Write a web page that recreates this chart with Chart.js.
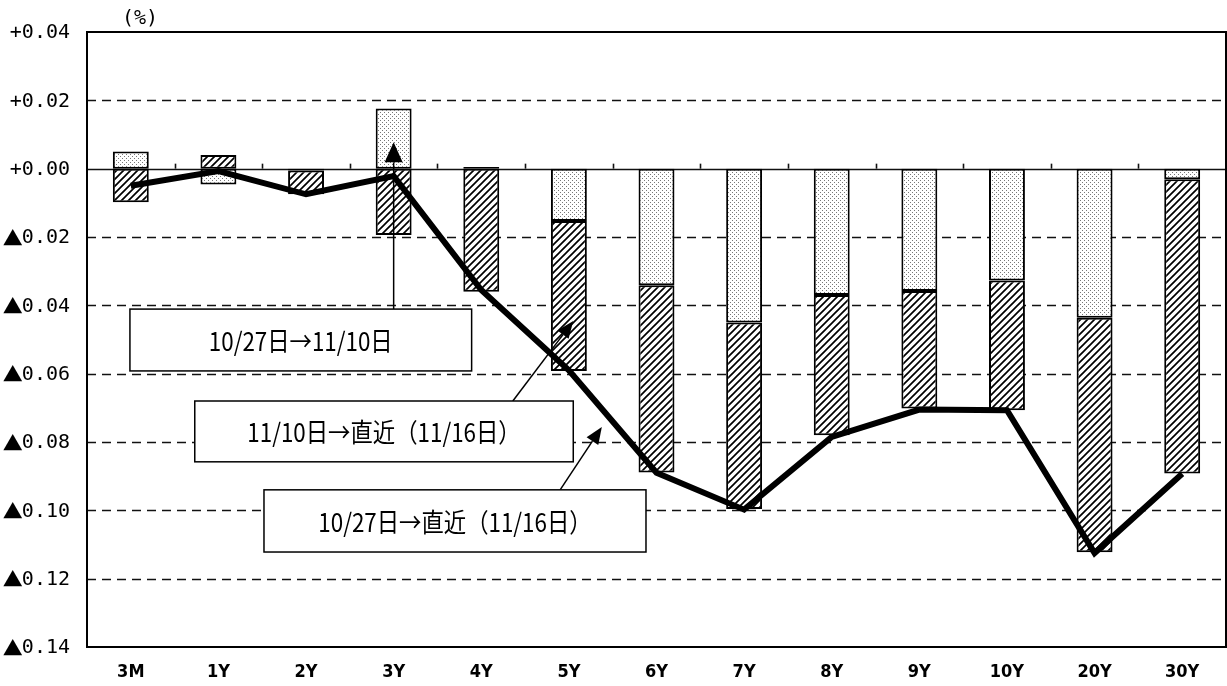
<!DOCTYPE html>
<html>
<head>
<meta charset="utf-8">
<script src="https://cdn.jsdelivr.net/npm/chart.js@4.4.0/dist/chart.umd.min.js"></script>
<style>
  html, body { margin: 0; padding: 0; background: #fff; }
  #wrap { width: 1227px; height: 686px; }
</style>
</head>
<body>
<div id="wrap"><canvas id="myChart" width="1227" height="686"></canvas></div>
<script>
// maturities
const labels = ['3M', '1Y', '2Y', '3Y', '4Y', '5Y', '6Y', '7Y', '8Y', '9Y', '10Y', '20Y', '30Y'];
// 10/27 -> 11/10 (dotted bars)
const firstLeg = [0.005, -0.0046, -0.0005, 0.0176, 0.0005, -0.0153, -0.0341, -0.045, -0.037, -0.0358, -0.0327, -0.0436, -0.0031];
// 11/10 -> 11/16 (hatched bars)
const secondLeg = [-0.0098, 0.004, -0.007, -0.0194, -0.036, -0.0439, -0.0548, -0.0546, -0.041, -0.0344, -0.038, -0.0687, -0.0861];
// 10/27 -> 11/16 (line)
const totalMove = [-0.005, -0.0007, -0.0075, -0.0022, -0.0355, -0.059, -0.089, -0.0998, -0.0785, -0.0705, -0.0707, -0.1125, -0.0893];
// y axis labels, top to bottom
const yTickLabels = ['+0.04', '+0.02', '+0.00', '▲0.02', '▲0.04', '▲0.06', '▲0.08', '▲0.10', '▲0.12', '▲0.14'];

// callout boxes and arrows, in (category index, value) units
const boxes = [
    { x0: -0.01, x1: 3.89, y0: -0.0411, y1: -0.0592, text: '10/27日→11/10日' },
    { x0: 0.73, x1: 5.05, y0: -0.068, y1: -0.0858, text: '11/10日→直近（11/16日）' },
    { x0: 1.52, x1: 5.88, y0: -0.094, y1: -0.1122, text: '10/27日→直近（11/16日）' }
];
const arrows = [
    { from: [3.0, -0.0411], to: [3.0, 0.0077], head: 20, half: 9 },
    { from: [4.36, -0.068], to: [5.05, -0.0446], head: 17, half: 7 },
    { from: [4.90, -0.094], to: [5.376, -0.0756], head: 17, half: 7 }
];

const canvas = document.getElementById('myChart');
const ctx = canvas.getContext('2d');

function makeHatch() {
    const c = document.createElement('canvas');
    c.width = 7; c.height = 7;
    const g = c.getContext('2d');
    g.fillStyle = '#fff';
    g.fillRect(0, 0, 7, 7);
    g.strokeStyle = '#000';
    g.lineWidth = 1.7;
    g.beginPath();
    g.moveTo(-1, 8); g.lineTo(8, -1);
    g.moveTo(-1, 1); g.lineTo(1, -1);
    g.moveTo(6, 8); g.lineTo(8, 6);
    g.stroke();
    return ctx.createPattern(c, 'repeat');
}

function makeDots() {
    const c = document.createElement('canvas');
    c.width = 4; c.height = 4;
    const g = c.getContext('2d');
    g.fillStyle = '#fff';
    g.fillRect(0, 0, 4, 4);
    g.fillStyle = '#777';
    g.fillRect(0, 0, 1, 1);
    g.fillRect(2, 2, 1, 1);
    return ctx.createPattern(c, 'repeat');
}

function arrowHead(c, x0, y0, x1, y1, len, half) {
    const a = Math.atan2(y1 - y0, x1 - x0);
    const bx = x1 - len * Math.cos(a), by = y1 - len * Math.sin(a);
    c.beginPath();
    c.moveTo(x1, y1);
    c.lineTo(bx + half * Math.sin(a), by - half * Math.cos(a));
    c.lineTo(bx - half * Math.sin(a), by + half * Math.cos(a));
    c.closePath();
    c.fill();
}

const paperPlugin = {
    id: 'paper',
    beforeDraw(chart) {
        const c = chart.ctx;
        c.save();
        c.fillStyle = '#fff';
        c.fillRect(0, 0, chart.width, chart.height);
        c.fillStyle = '#000';
        c.font = '20px "DejaVu Sans Mono"';
        c.textAlign = 'center';
        c.textBaseline = 'middle';
        c.fillText('(%)', 140, 19);
        c.restore();
    },
    beforeDatasetsDraw(chart) {
        const c = chart.ctx, a = chart.chartArea;
        const ys = chart.scales.y, xs = chart.scales.x;
        c.save();
        c.strokeStyle = '#111';
        ys.ticks.forEach(t => {
            const py = Math.round(ys.getPixelForValue(t.value)) + 0.5;
            if (py < a.top + 2 || py > a.bottom - 2) return;
            c.beginPath();
            if (Math.abs(t.value) < 1e-9) {
                c.setLineDash([]);
                c.lineWidth = 1.5;
            } else {
                c.setLineDash([9, 6]);
                c.lineWidth = 1.6;
            }
            c.moveTo(a.left, py);
            c.lineTo(a.right, py);
            c.stroke();
        });
        // small ticks on the zero line
        c.setLineDash([]);
        const zy = ys.getPixelForValue(0);
        for (let i = 0; i < labels.length - 1; i++) {
            const px = Math.round(xs.getPixelForValue(i + 0.5)) + 0.5;
            c.beginPath();
            c.moveTo(px, zy);
            c.lineTo(px, zy - 5);
            c.stroke();
        }

        // y labels: big CJK triangle + monospaced digits
        c.fillStyle = '#000';
        c.textBaseline = 'middle';
        ys.ticks.forEach(t => {
            const txt = yTickLabels[Math.round((0.04 - t.value) / 0.02)];
            if (!txt) return;
            const py = ys.getPixelForValue(t.value) + 1;
            const num = txt.slice(1);
            c.font = '20px "DejaVu Sans Mono"';
            c.textAlign = 'right';
            c.fillText(num, 70, py);
            const w = c.measureText(num).width;
            if (txt[0] === '▲') {
                c.font = '20px "Noto Sans CJK JP"';
                c.fillText('▲', 70 - w + 1, py);
            } else {
                c.fillText(txt[0], 70 - w, py);
            }
        });
        c.restore();
    },
    afterDatasetsDraw(chart) {
        const c = chart.ctx, a = chart.chartArea;
        const ys = chart.scales.y, xs = chart.scales.x;
        c.save();
        c.strokeStyle = '#000';
        c.fillStyle = '#000';
        c.lineWidth = 1.5;
        arrows.forEach(ar => {
            const x0 = xs.getPixelForValue(ar.from[0]), y0 = ys.getPixelForValue(ar.from[1]);
            const x1 = xs.getPixelForValue(ar.to[0]), y1 = ys.getPixelForValue(ar.to[1]);
            const ang = Math.atan2(y1 - y0, x1 - x0);
            c.beginPath();
            c.moveTo(x0, y0);
            c.lineTo(x1 - ar.head * Math.cos(ang), y1 - ar.head * Math.sin(ang));
            c.stroke();
            arrowHead(c, x0, y0, x1, y1, ar.head, ar.half);
        });
        c.font = '26px "Noto Sans CJK JP"';
        c.textAlign = 'center';
        c.textBaseline = 'middle';
        boxes.forEach(b => {
            const l = xs.getPixelForValue(b.x0), r = xs.getPixelForValue(b.x1);
            const t = ys.getPixelForValue(b.y0), bt = ys.getPixelForValue(b.y1);
            c.fillStyle = '#fff';
            c.fillRect(l, t, r - l, bt - t);
            c.strokeRect(l, t, r - l, bt - t);
            c.fillStyle = '#000';
            // condensed look of the original lettering
            c.save();
            c.translate((l + r) / 2, (t + bt) / 2 + 1);
            c.scale(0.86, 1);
            c.fillText(b.text, 0, 0);
            c.restore();
        });
        // plot frame
        c.lineWidth = 2;
        c.strokeRect(a.left, a.top, a.right - a.left, a.bottom - a.top);
        c.restore();
    }
};

new Chart(canvas, {
    type: 'bar',
    data: {
        labels: labels,
        datasets: [
            {
                type: 'line',
                label: '10/27日→直近（11/16日）',
                data: totalMove,
                stack: 'total',
                borderColor: '#000',
                borderWidth: 6,
                borderJoinStyle: 'miter',
                pointRadius: 0,
                tension: 0,
                fill: false,
                order: 0
            },
            {
                label: '10/27日→11/10日',
                data: firstLeg,
                stack: 'bars',
                backgroundColor: makeDots(),
                borderColor: '#000',
                borderWidth: 2,
                borderSkipped: false,
                barPercentage: 0.41,
                categoryPercentage: 1.0,
                order: 1
            },
            {
                label: '11/10日→直近（11/16日）',
                data: secondLeg,
                stack: 'bars',
                backgroundColor: makeHatch(),
                borderColor: '#000',
                borderWidth: 2,
                borderSkipped: false,
                barPercentage: 0.41,
                categoryPercentage: 1.0,
                order: 2
            }
        ]
    },
    options: {
        responsive: false,
        devicePixelRatio: 1,
        animation: false,
        layout: { padding: { top: 32, right: 1, left: 0, bottom: 0 } },
        plugins: {
            legend: { display: false },
            tooltip: { enabled: false },
            title: { display: false }
        },
        scales: {
            x: {
                stacked: true,
                offset: true,
                grid: { display: false, drawTicks: false },
                border: { display: false },
                ticks: {
                    color: '#000',
                    font: { family: '"Liberation Sans Narrow", "DejaVu Sans Condensed", sans-serif', size: 18, weight: 'bold' },
                    padding: 15,
                    maxRotation: 0,
                    autoSkip: false
                },
                afterFit(axis) { axis.height = 39; }
            },
            y: {
                stacked: true,
                min: -0.14,
                max: 0.04,
                grid: { display: false, drawTicks: false },
                border: { display: false },
                ticks: {
                    stepSize: 0.02,
                    display: false
                },
                afterFit(axis) { axis.width = 87; }
            }
        }
    },
    plugins: [paperPlugin]
});
</script>
</body>
</html>
